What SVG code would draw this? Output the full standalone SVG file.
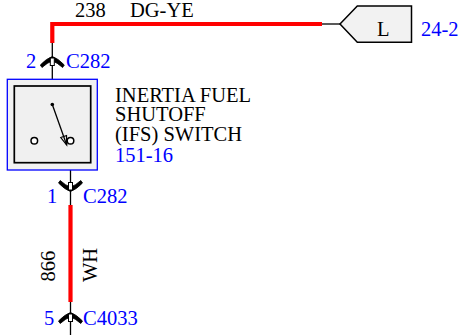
<svg xmlns="http://www.w3.org/2000/svg" width="466" height="335" viewBox="0 0 466 335">
<style>
text{font-family:"Liberation Serif","Times New Roman",serif;font-size:20.5px;fill:#000}
.b{fill:#0000ff}
.red{fill:none;stroke:#ff0000;stroke-width:4.2}
.wire{fill:none;stroke:#000;stroke-width:1.3}
.con{fill:#000;stroke:#000;stroke-width:0.8;stroke-linejoin:round}
.pin{fill:#fff;stroke:#000;stroke-width:1}
</style>
<defs>
<g id="conn">
<path class="con" d="M0,0 Q-6,2 -12,8.5 L-10.3,11 Q-5,6 0,4.5 Q5,6 10.3,11 L12,8.5 Q6,2 0,0 Z"/>
<rect class="pin" x="-2" y="1.5" width="4" height="7.5"/>
</g>
</defs>
<g id="connectors">
<path class="red" d="M52.3,43 V24 H322"/>
<path class="wire" d="M322,24 H340"/>
<path class="wire" d="M52.3,43 V104"/>
<path class="wire" d="M70.5,144 V205"/>
<path class="red" d="M70.5,205 V302"/>
<path class="wire" d="M70.5,302 V335"/>
<text x="75" y="16.5">238</text>
<text x="130" y="16.5">DG-YE</text>
<text transform="translate(55,266) rotate(-90)" text-anchor="middle">866</text>
<text transform="translate(97,265) rotate(-90)" text-anchor="middle">WH</text>
</g>
<g id="C282-2">
<use href="#conn" transform="translate(52.3,56.5)"/>
<text class="b" x="26" y="67.5">2</text>
<text class="b" x="66" y="67.5">C282</text>
</g>
<g id="C282-1">
<use href="#conn" transform="translate(70.5,191.5) scale(1,-1)"/>
<text class="b" x="47" y="203">1</text>
<text class="b" x="83" y="203">C282</text>
</g>
<g id="C4033-5">
<use href="#conn" transform="translate(70.5,312.5)"/>
<text class="b" x="44" y="325">5</text>
<text class="b" x="83" y="325">C4033</text>
</g>
<g id="ifs-switch">
<rect x="7.3" y="79.3" width="90" height="90.7" fill="#f2f2f2" stroke="#0000ff" stroke-width="1.3"/>
<rect x="14.3" y="86" width="76.4" height="76.7" fill="#f0f0f0" stroke="#000" stroke-width="1.7"/>
<circle cx="52.3" cy="104.5" r="1.8" fill="#000"/>
<path class="wire" d="M52.3,104.5 L66.7,145"/>
<polygon points="66.7,145 66.5,135.5 60.8,137.5" fill="none" stroke="#000" stroke-width="1.2"/>
<circle cx="34.3" cy="140.7" r="3.3" fill="#fff" stroke="#000" stroke-width="1.5"/>
<circle cx="70.5" cy="140.7" r="3.3" fill="#fff" stroke="#000" stroke-width="1.5"/>
<text x="115" y="101.5">INERTIA FUEL</text>
<text x="115" y="121">SHUTOFF</text>
<text x="115" y="141">(IFS) SWITCH</text>
<text class="b" x="115" y="162">151-16</text>
</g>
<g id="ref-24-2">
<polygon points="340,24 357.3,6 411.5,6 411.5,42.3 357.3,42.3" fill="#f2f2f2" stroke="#000" stroke-width="1.5"/>
<text x="377" y="35.7">L</text>
<text class="b" x="421" y="35.7">24-2</text>
</g>
</svg>
